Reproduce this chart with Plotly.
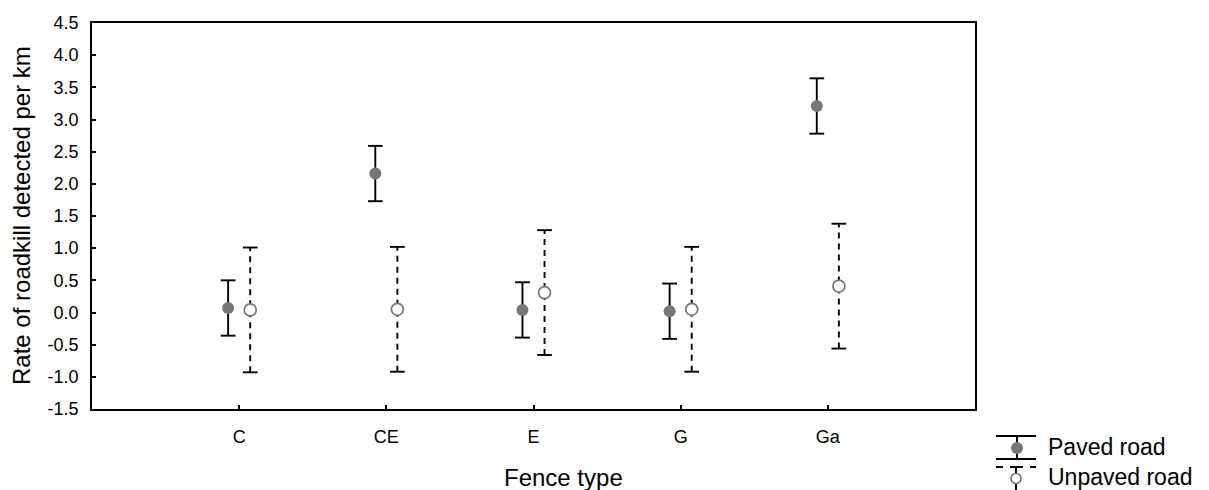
import plotly.graph_objects as go

# Roadkill detection rate per km by fence type, means with confidence intervals
categories = ["C", "CE", "E", "G", "Ga"]
paved_mean = [0.07, 2.16, 0.04, 0.02, 3.21]
paved_err = [0.43, 0.43, 0.43, 0.43, 0.43]
unpaved_mean = [0.04, 0.05, 0.31, 0.05, 0.41]
unpaved_err = [0.97, 0.97, 0.97, 0.97, 0.97]
y_ticks = [-1.5, -1.0, -0.5, 0.0, 0.5, 1.0, 1.5, 2.0, 2.5, 3.0, 3.5, 4.0, 4.5]

FONT = "Liberation Sans, Arial, sans-serif"
BIG = 24
LEG = 23
SMALL = 18
OFFSET = 0.075   # horizontal shift of each series from its category
CAP = 0.05       # half-width of error bar caps (x units)

xpos = list(range(1, len(categories) + 1))


def bar_paths(means, errs, shift):
    """Vertical whisker segments and cap segments, separated by None."""
    vx, vy, cx, cy = [], [], [], []
    for x, m, e in zip(xpos, means, errs):
        xs = x + shift
        vx += [xs, xs, None]
        vy += [m - e, m + e, None]
        for yv in (m - e, m + e):
            cx += [xs - CAP, xs + CAP, None]
            cy += [yv, yv, None]
    return vx, vy, cx, cy


fig = go.Figure()

for means, errs, shift, dash, filled in [
    (paved_mean, paved_err, -OFFSET, "solid", True),
    (unpaved_mean, unpaved_err, OFFSET, "6px,5px", False),
]:
    vx, vy, cx, cy = bar_paths(means, errs, shift)
    fig.add_trace(go.Scatter(x=vx, y=vy, mode="lines",
                             line=dict(color="black", width=1.9, dash=dash),
                             hoverinfo="skip", showlegend=False))
    fig.add_trace(go.Scatter(x=cx, y=cy, mode="lines",
                             line=dict(color="black", width=1.9),
                             hoverinfo="skip", showlegend=False))
    fig.add_trace(go.Scatter(
        x=[x + shift for x in xpos], y=means, mode="markers",
        marker=dict(size=12,
                    color="#777777" if filled else "white",
                    line=dict(color="#777777", width=0 if filled else 1.7)),
        showlegend=False))

# Plot area: x 92..975 px, y 23..409 px
L, R, T, B = 92, 975, 23, 409
W, H = R - L, B - T


def px(x):
    return (x - L) / W


def py(y):
    return (B - y) / H


shapes = []


def seg(x0, y0, x1, y1, dash="solid"):
    shapes.append(dict(type="line", xref="paper", yref="paper",
                       x0=px(x0), y0=py(y0), x1=px(x1), y1=py(y1),
                       line=dict(color="black", width=1.9, dash=dash)))


# Legend glyph: paved road (solid whisker with filled dot)
seg(996, 436, 1036, 436)
seg(1017, 436, 1017, 459)
seg(996, 459, 1036, 459)
shapes.append(dict(type="circle", xref="paper", yref="paper",
                   x0=px(1011), x1=px(1023), y0=py(454), y1=py(442),
                   fillcolor="#777777", line=dict(width=0)))
# Legend glyph: unpaved road (dashed cap, open circle)
seg(996, 467, 1003, 467)
seg(1010, 467, 1023, 467)
seg(1030, 467, 1036, 467)
seg(1016, 467, 1016, 473.5)
seg(1016, 484, 1016, 490)
shapes.append(dict(type="circle", xref="paper", yref="paper",
                   x0=px(1011), x1=px(1021), y0=py(483.5), y1=py(473.5),
                   fillcolor="white", line=dict(color="#777777", width=1.7)))

annotations = [
    dict(text="Paved road", xref="paper", yref="paper", x=px(1046), y=py(447),
         xanchor="left", yanchor="middle", showarrow=False,
         font=dict(family=FONT, size=LEG, color="black")),
    dict(text="Unpaved road", xref="paper", yref="paper", x=px(1046), y=py(477),
         xanchor="left", yanchor="middle", showarrow=False,
         font=dict(family=FONT, size=LEG, color="black")),
    dict(text="Fence type", xref="paper", yref="paper", x=px(563), y=py(477),
         xanchor="center", yanchor="middle", showarrow=False,
         font=dict(family=FONT, size=BIG, color="black")),
    dict(text="Rate of roadkill detected per km", xref="paper", yref="paper",
         x=px(21), y=py(216), xanchor="center", yanchor="middle",
         textangle=-90, showarrow=False,
         font=dict(family=FONT, size=BIG, color="black")),
]

fig.update_layout(
    width=1209, height=490,
    margin=dict(l=L, r=1209 - R, t=T, b=490 - B, pad=0),
    paper_bgcolor="white", plot_bgcolor="white",
    font=dict(family=FONT, size=SMALL, color="black"),
    shapes=shapes, annotations=annotations,
    showlegend=False,
)
fig.update_xaxes(range=[0, 6], tickmode="array", tickvals=xpos,
                 ticktext=categories, ticks="inside", ticklen=4,
                 tickcolor="black", tickwidth=1.5,
                 showline=True, linecolor="black", linewidth=1.9, mirror=True,
                 showgrid=False, zeroline=False, ticklabelstandoff=10,
                 tickfont=dict(family=FONT, size=SMALL, color="black"))
fig.update_yaxes(range=[-1.5, 4.5], tickmode="array", tickvals=y_ticks,
                 ticktext=[f"{v:.1f}" for v in y_ticks], ticks="inside",
                 ticklen=4, tickcolor="black", tickwidth=1.5,
                 showline=True, linecolor="black", linewidth=1.9, mirror=True,
                 showgrid=False, zeroline=False, ticklabelstandoff=8,
                 tickfont=dict(family=FONT, size=SMALL, color="black"))

fig.write_html("out.html")
